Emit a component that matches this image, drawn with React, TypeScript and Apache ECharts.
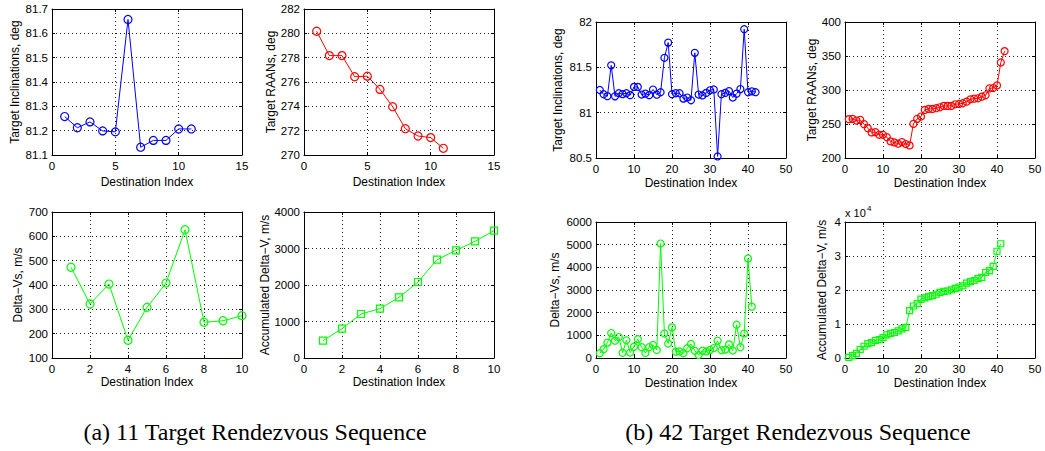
import { useEffect, useRef } from "react";
import * as echarts from "echarts";

// ---------- data ----------
const inclA = [81.258, 81.212, 81.236, 81.199, 81.195, 81.657, 81.132, 81.16, 81.16, 81.207, 81.207];
const raanA = [280.17, 278.17, 278.17, 276.43, 276.48, 275.39, 273.97, 272.16, 271.56, 271.43, 270.55];
const dvA = [473, 322, 404, 173, 308, 408, 627, 247, 253, 274];
const accA = [475, 804, 1205, 1352, 1662, 2082, 2694, 2950, 3196, 3489];

const inclB = [
  81.25, 81.203, 81.182, 81.522, 81.18, 81.214, 81.205, 81.214, 81.193, 81.284,
  81.284, 81.2, 81.21, 81.193, 81.255, 81.198, 81.225, 81.605, 81.773, 81.203,
  81.214, 81.214, 81.155, 81.167, 81.137, 81.66, 81.2, 81.19, 81.218, 81.247,
  81.256, 80.517, 81.203, 81.218, 81.238, 81.167, 81.21, 81.26, 81.92, 81.225,
  81.235, 81.226,
];
const raanB = [
  257.1, 257.6, 255.1, 256.1, 249.8, 243.9, 237.6, 238.0, 234.1, 234.1,
  230.7, 224.4, 222.9, 221.0, 223.4, 220.5, 218.5, 250.2, 257.6, 261.0,
  270.7, 272.2, 272.2, 273.2, 274.6, 276.6, 276.6, 276.6, 279.0, 279.5,
  280.5, 282.9, 286.3, 287.3, 287.8, 290.2, 292.2, 302.4, 302.9, 306.8,
  340.5, 357.1,
];
const dvB = [
  210, 390, 680, 1100, 765, 925, 232, 780, 240, 500,
  830, 480, 220, 480, 575, 355, 5050, 1080, 640, 1350,
  280, 290, 210, 430, 620, 320, 130, 320, 290, 360,
  440, 760, 340, 370, 600, 330, 1470, 480, 1080, 4390,
  2265,
];
const accB = [
  210, 700, 1350, 2500, 3450, 4250, 4550, 5150, 5400, 6000,
  6800, 7250, 7500, 8000, 8550, 9000, 13950, 15300, 16000, 17300,
  17700, 18050, 18350, 18750, 19300, 19600, 19700, 20050, 20450, 20850,
  21250, 22050, 22450, 22800, 23350, 23700, 25150, 25700, 26950, 31400,
  33600,
];

const xTitle = "Destination Index";
const captionA = "(a) 11 Target Rendezvous Sequence";
const captionB = "(b) 42 Target Rendezvous Sequence";

const FONT = "'Liberation Sans', Arial, Helvetica, sans-serif";
const SERIF = "'Liberation Serif', 'Times New Roman', Times, serif";

type Panel = {
  grid: { left: number; top: number; width: number; height: number };
  xMax: number;
  xInt: number;
  yMin: number;
  yMax: number;
  yInt: number;
  yName: string;
  yGap: number;
  xGap: number;
  values: number[];
  color: string;
  symbol: string;
  size: number;
  fmt?: (v: number) => string;
};

const BLUE = "#0000ff";
const RED = "#ff0000";
const GREEN = "#00ff00";

const panels: Panel[] = [
  { grid: { left: 52, top: 9, width: 190, height: 146 }, xMax: 15, xInt: 5, yMin: 81.1, yMax: 81.7, yInt: 0.1,
    yName: "Target Inclinations, deg", yGap: 31, xGap: 21, values: inclA, color: BLUE, symbol: "circle", size: 8,
    fmt: (v) => v.toFixed(1) },
  { grid: { left: 304, top: 9, width: 190, height: 146 }, xMax: 15, xInt: 5, yMin: 270, yMax: 282, yInt: 2,
    yName: "Target RAANs, deg", yGap: 26, xGap: 21, values: raanA, color: RED, symbol: "circle", size: 8 },
  { grid: { left: 52, top: 212, width: 190, height: 146 }, xMax: 10, xInt: 2, yMin: 100, yMax: 700, yInt: 100,
    yName: "Delta\u2212Vs, m/s", yGap: 28, xGap: 18, values: dvA, color: GREEN, symbol: "circle", size: 8 },
  { grid: { left: 304, top: 212, width: 190, height: 146 }, xMax: 10, xInt: 2, yMin: 0, yMax: 4000, yInt: 1000,
    yName: "Accumulated Delta\u2212V, m/s", yGap: 32, xGap: 18, values: accA, color: GREEN, symbol: "rect", size: 7 },
  { grid: { left: 596, top: 22, width: 190, height: 136 }, xMax: 50, xInt: 10, yMin: 80.5, yMax: 82, yInt: 0.5,
    yName: "Target Inclinations, deg", yGap: 32, xGap: 19, values: inclB, color: BLUE, symbol: "circle", size: 7,
    fmt: (v) => String(Math.round(v * 10) / 10) },
  { grid: { left: 845, top: 22, width: 190, height: 136 }, xMax: 50, xInt: 10, yMin: 200, yMax: 400, yInt: 50,
    yName: "Target RAANs, deg", yGap: 27, xGap: 19, values: raanB, color: RED, symbol: "circle", size: 7 },
  { grid: { left: 596, top: 222, width: 190, height: 136 }, xMax: 50, xInt: 10, yMin: 0, yMax: 6000, yInt: 1000,
    yName: "Delta\u2212Vs, m/s", yGap: 35, xGap: 19, values: dvB, color: GREEN, symbol: "circle", size: 7 },
  { grid: { left: 845, top: 222, width: 190, height: 136 }, xMax: 50, xInt: 10, yMin: 0, yMax: 40000, yInt: 10000,
    yName: "Accumulated Delta\u2212V, m/s", yGap: 17, xGap: 19, values: accB, color: GREEN, symbol: "rect", size: 6,
    fmt: (v) => String(Math.round(v / 10000)) },
];

const lineCol = "#000";
const gridLine = { show: true, lineStyle: { color: "#222", type: [1, 3] as any, width: 1 } };

export default function App() {
  const ref = useRef<HTMLDivElement>(null);
  useEffect(() => {
    const chart = echarts.init(ref.current!, null, { renderer: "svg" });
    const grids: any[] = [];
    const xAxes: any[] = [];
    const yAxes: any[] = [];
    const series: any[] = [];
    panels.forEach((p, gi) => {
      grids.push({ ...p.grid, containLabel: false });
      const axLine = { show: true, onZero: false, lineStyle: { color: lineCol, width: 1 } };
      const tick = { show: true, inside: true, length: 3, lineStyle: { color: lineCol, width: 1 } };
      const label = { color: "#000", fontSize: 11.5, fontFamily: FONT };
      xAxes.push({
        type: "value", gridIndex: gi, position: "bottom", min: 0, max: p.xMax, interval: p.xInt,
        axisLine: axLine, axisTick: tick,
        axisLabel: { ...label, margin: 5, formatter: (v: number) => String(v) },
        splitLine: gridLine,
        name: xTitle, nameLocation: "middle", nameGap: p.xGap,
        nameTextStyle: { color: "#000", fontSize: 12, fontFamily: FONT },
      });
      xAxes.push({
        type: "value", gridIndex: gi, position: "top", min: 0, max: p.xMax, interval: p.xInt,
        axisLine: axLine, axisTick: tick, axisLabel: { show: false }, splitLine: { show: false },
      });
      yAxes.push({
        type: "value", gridIndex: gi, position: "left", min: p.yMin, max: p.yMax, interval: p.yInt,
        axisLine: axLine, axisTick: tick,
        axisLabel: { ...label, margin: 4, formatter: p.fmt ? (v: number) => p.fmt!(v) : (v: number) => String(v) },
        splitLine: gridLine,
        name: p.yName, nameLocation: "middle", nameGap: p.yGap,
        nameTextStyle: { color: "#000", fontSize: 12, fontFamily: FONT },
      });
      yAxes.push({
        type: "value", gridIndex: gi, position: "right", min: p.yMin, max: p.yMax, interval: p.yInt,
        axisLine: axLine, axisTick: tick, axisLabel: { show: false }, splitLine: { show: false },
      });
      series.push({
        type: "line",
        xAxisIndex: gi * 2,
        yAxisIndex: gi * 2,
        data: p.values.map((v, i) => [i + 1, v]),
        symbol: p.symbol,
        symbolSize: p.size,
        showSymbol: true,
        clip: false,
        silent: true,
        lineStyle: { color: p.color, width: 1 },
        itemStyle: { color: "rgba(0,0,0,0)", borderColor: p.color, borderWidth: 1.2 },
      });
    });

    const option: any = {
      animation: false,
      backgroundColor: "#fff",
      grid: grids,
      xAxis: xAxes,
      yAxis: yAxes,
      series,
      graphic: [
        { type: "text", x: 845, y: 213, style: { text: "x 10", fontSize: 11, fontFamily: FONT, fill: "#000", align: "left", verticalAlign: "middle" } },
        { type: "text", x: 867, y: 208, style: { text: "4", fontSize: 8, fontFamily: FONT, fill: "#000", align: "left", verticalAlign: "middle" } },
        { type: "text", x: 255, y: 432, style: { text: captionA, fontSize: 24, fontFamily: SERIF, fill: "#000", align: "center", verticalAlign: "middle" } },
        { type: "text", x: 798, y: 432, style: { text: captionB, fontSize: 24, fontFamily: SERIF, fill: "#000", align: "center", verticalAlign: "middle" } },
      ],
    };
    chart.setOption(option);
    return () => chart.dispose();
  }, []);
  return (
    <div
      ref={ref}
      style={{ position: "fixed", left: 0, top: 0, width: 1045, height: 451, background: "#fff" }}
    />
  );
}
